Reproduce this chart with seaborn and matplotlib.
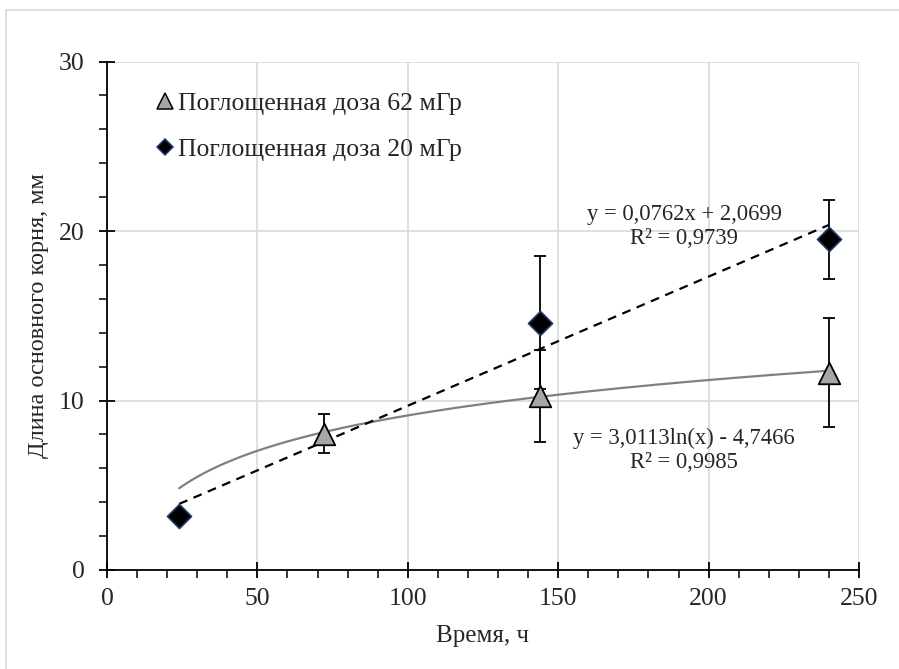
import numpy as np
import pandas as pd
import matplotlib
matplotlib.use("Agg")
import matplotlib.pyplot as plt
import seaborn as sns
from matplotlib.ticker import MultipleLocator
from matplotlib.lines import Line2D
from matplotlib.patches import Rectangle

# Root length, dose 62 mGy
t62 = [72, 144, 240]
len62 = [8.05, 10.25, 11.65]
err62 = [1.15, 2.7, 3.2]

# Root length, dose 20 mGy
t20 = [24, 144, 240]
len20 = [3.2, 14.6, 19.5]
err20 = [0.0, 3.9, 2.35]

label62 = "Поглощенная доза 62 мГр"
label20 = "Поглощенная доза 20 мГр"

# Trendline coefficients
log_a, log_b = 3.0113, -4.7466
lin_k, lin_b = 0.0762, 2.0699
eq_log = "y = 3,0113ln(x) - 4,7466\nR² = 0,9985"
eq_lin = "y = 0,0762x + 2,0699\nR² = 0,9739"

sns.set_theme(style="white")
plt.rcParams["font.family"] = ["Liberation Serif", "DejaVu Serif"]

fig = plt.figure(figsize=(8.99, 6.69), dpi=100)
ax = fig.add_axes([107 / 899, 1 - 570 / 669, 752 / 899, 508.5 / 669])

# outer chart frame
fig.patches.append(Rectangle((6 / 899, -0.02), 1.0, 1 - 10 / 669 + 0.02,
                             transform=fig.transFigure, fill=False,
                             edgecolor="#d9d9d9", linewidth=1.2, zorder=0))

# trendlines
xl = np.linspace(min(t62 + t20), max(t62 + t20), 200)
df_log = pd.DataFrame({"x": xl, "y": log_a * np.log(xl) + log_b})
df_lin = pd.DataFrame({"x": xl, "y": lin_k * xl + lin_b})
sns.lineplot(data=df_log, x="x", y="y", ax=ax, color="#808080", linewidth=1.6, zorder=2)
sns.lineplot(data=df_lin, x="x", y="y", ax=ax, color="black", linewidth=1.6,
             linestyle=(0, (4, 3)), zorder=2)

# error bars
ax.errorbar(t20, len20, yerr=err20, fmt="none", ecolor="black", elinewidth=1.3,
            capsize=4, capthick=1.3, zorder=3)
ax.errorbar(t62, len62, yerr=err62, fmt="none", ecolor="black", elinewidth=1.3,
            capsize=4, capthick=1.3, zorder=3)

# markers
df20 = pd.DataFrame({"t": t20, "v": len20})
df62 = pd.DataFrame({"t": t62, "v": len62})
sns.scatterplot(data=df20, x="t", y="v", ax=ax, marker="D", s=150, color="black",
                edgecolor="#1f3864", linewidth=1.2, zorder=4)
sns.scatterplot(data=df62, x="t", y="v", ax=ax, marker="^", s=240, color="#a6a6a6",
                edgecolor="black", linewidth=1.3, zorder=5)

ax.set_xlim(0, 250)
ax.set_ylim(0, 30)
ax.xaxis.set_major_locator(MultipleLocator(50))
ax.xaxis.set_minor_locator(MultipleLocator(10))
ax.yaxis.set_major_locator(MultipleLocator(10))
ax.yaxis.set_minor_locator(MultipleLocator(2))
ax.grid(True, which="major", color="#d9d9d9", linewidth=1.2)
ax.set_axisbelow(True)

for side in ["top", "right"]:
    ax.spines[side].set_visible(False)
for side in ["left", "bottom"]:
    ax.spines[side].set_color("black")
    ax.spines[side].set_linewidth(1.3)

ax.tick_params(which="major", direction="inout", length=12, width=1.3, color="black",
               labelsize=18.5, bottom=True, left=True)
ax.tick_params(axis="x", which="major", pad=7)
ax.tick_params(axis="y", which="major", pad=10)
ax.tick_params(which="minor", direction="out", length=6, width=1.1, color="black",
               bottom=True, left=True)

ax.set_xlabel("Время, ч", fontsize=18, labelpad=11)
ax.set_ylabel("Длина основного корня, мм", fontsize=17.5, labelpad=7)

ax.text(191.9, 20.24, eq_lin, ha="center", va="center", fontsize=16.3, linespacing=1.18)
ax.text(191.9, 7.04, eq_log, ha="center", va="center", fontsize=16.3, linespacing=1.18)

handles = [
    Line2D([], [], marker="^", linestyle="none", markersize=11,
           markerfacecolor="#a6a6a6", markeredgecolor="black", markeredgewidth=1.1),
    Line2D([], [], marker="D", linestyle="none", markersize=8,
           markerfacecolor="black", markeredgecolor="#1f3864", markeredgewidth=1.1),
]
ax.legend(handles, [label62, label20], loc="upper left", bbox_to_anchor=(0.064, 0.94),
          frameon=False, fontsize=18.5, handletextpad=0.1, labelspacing=0.9,
          handlelength=0.8, borderpad=0, borderaxespad=0)

fig.savefig("out.png", dpi=100, facecolor="white")
